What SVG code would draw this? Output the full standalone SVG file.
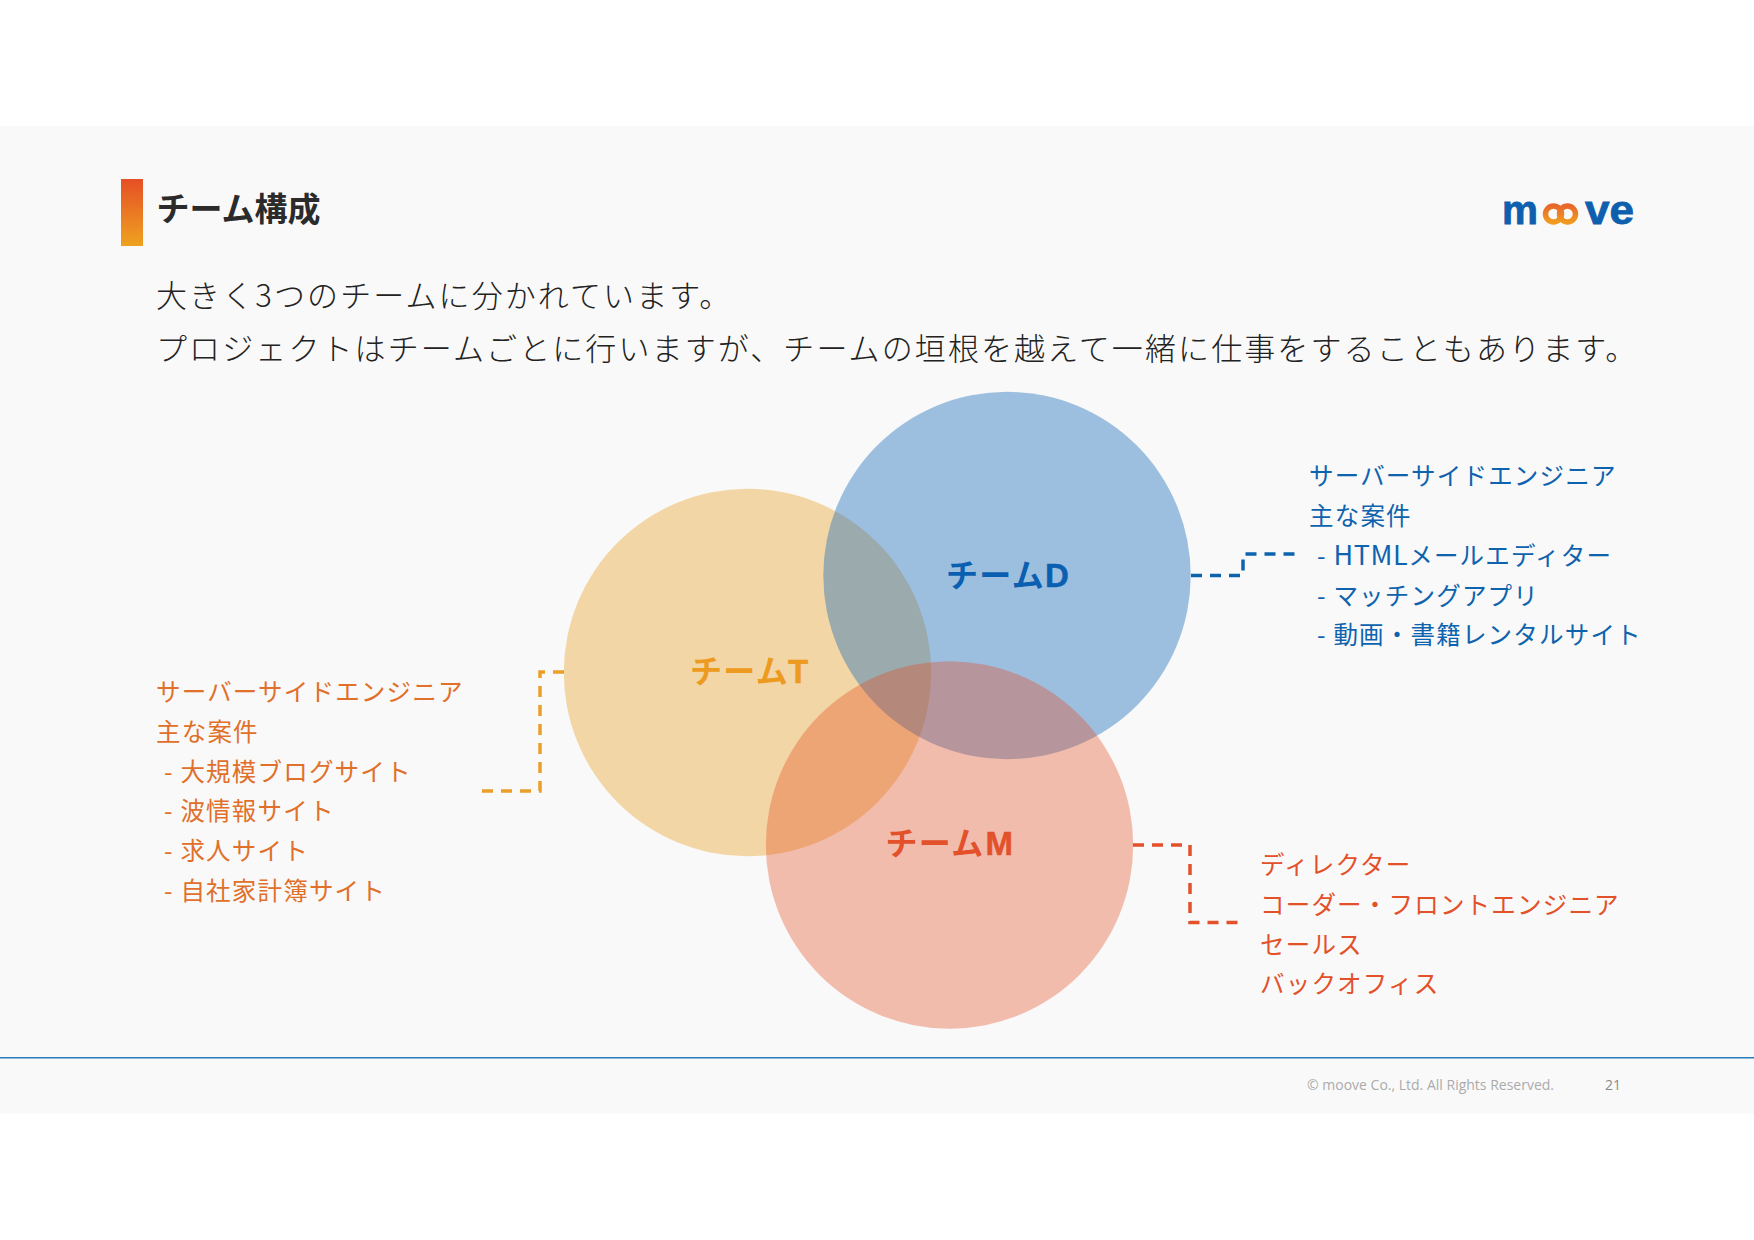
<svg xmlns="http://www.w3.org/2000/svg" width="1754" height="1240" viewBox="0 0 1754 1240">
<style>
text{font-family:"Noto Sans CJK JP","Noto Sans",sans-serif}
.body{font-size:31px;letter-spacing:2.1px;fill:#222;font-weight:300}
.l{font-size:24.500px;letter-spacing:1.2px}
.team{font-size:32px;font-weight:700;letter-spacing:1.3px}
.lat{font-family:"Liberation Sans",Arial,sans-serif;font-size:33px;font-weight:700;stroke-width:.5px;letter-spacing:0}
.t{fill:#e0702a}.d{fill:#0e63ae}.m{fill:#e2512a}
.dash{fill:none;stroke-width:3.500;stroke-dasharray:11 8}
.logo{font-family:"Liberation Sans",Arial,sans-serif;font-size:40px;font-weight:700;fill:#0e5fae;stroke:#0e5fae;stroke-width:.8px}
</style>
<defs>
<linearGradient id="bar" x1="0" y1="0" x2="0" y2="1"><stop offset="0" stop-color="#e64f25"/><stop offset="1" stop-color="#eea220"/></linearGradient>
<linearGradient id="oo" x1="0" y1="0" x2="0" y2="1"><stop offset="0" stop-color="#e8682a"/><stop offset="1" stop-color="#f09a20"/></linearGradient>
</defs>
<rect x="0" y="126" width="1754" height="987.500" fill="#f9f9f9"/>
<g id="header">
<rect x="121" y="179" width="22" height="67" fill="url(#bar)"/>
<text x="156.500" y="221" font-size="33" font-weight="700" fill="#2b2b2b">チーム構成</text>
<text class="body" x="156" y="306.500">大きく3つのチームに分かれています。</text>
<text class="body" x="156" y="359.500">プロジェクトはチームごとに行いますが、チームの垣根を越えて一緒に仕事をすることもあります。</text>
</g>
<g id="logo">
<text class="logo" x="1502" y="224" textLength="36" lengthAdjust="spacingAndGlyphs">m</text>
<circle cx="1553.500" cy="214" r="8" fill="none" stroke="url(#oo)" stroke-width="5.500"/>
<circle cx="1567.500" cy="214" r="8" fill="none" stroke="url(#oo)" stroke-width="5.500"/>
<text class="logo" x="1585" y="224" textLength="49" lengthAdjust="spacingAndGlyphs">ve</text>
</g>
<g id="connectors">
<path class="dash" stroke="#ea9f2a" d="M564 672H540V791H476"/>
<path class="dash" stroke="#0e63ae" d="M1191 575.500H1243V554H1296"/>
<path class="dash" stroke="#e2512a" d="M1133 845H1190V922.500H1243"/>
</g>
<g id="team-t">
<circle cx="747.500" cy="672.500" r="183.700" fill="#eca329" fill-opacity=".4"/>
</g>
<g id="team-d">
<circle cx="1007" cy="575.500" r="183.700" fill="#1469b9" fill-opacity=".4"/>
</g>
<g id="team-m">
<circle cx="949.500" cy="845" r="183.700" fill="#e44a1f" fill-opacity=".35"/>
</g>
<g id="team-labels">
<text class="team" x="690" y="683" fill="#ec9a20">チーム<tspan class="lat" dx="-1" stroke="#ec9a20">T</tspan></text>
<text class="team" x="946" y="587" fill="#0a5fb0">チーム<tspan class="lat" stroke="#0a5fb0">D</tspan></text>
<text class="team" x="885.500" y="855" fill="#e2512a">チーム<tspan class="lat" dx="1" stroke="#e2512a">M</tspan></text>
</g>
<g id="text-t">
<text class="l t" x="156" y="701">サーバーサイドエンジニア</text>
<text class="l t" x="156" y="741">主な案件</text>
<text class="l t" x="164" y="781">- 大規模ブログサイト</text>
<text class="l t" x="164" y="820">- 波情報サイト</text>
<text class="l t" x="164" y="860">- 求人サイト</text>
<text class="l t" x="164" y="900">- 自社家計簿サイト</text>
</g>
<g id="text-d">
<text class="l d" x="1309" y="485">サーバーサイドエンジニア</text>
<text class="l d" x="1309" y="525">主な案件</text>
<text class="l d" x="1317" y="565">- <tspan font-size="27" letter-spacing=".6">HTML</tspan>メールエディター</text>
<text class="l d" x="1317" y="605">- マッチングアプリ</text>
<text class="l d" x="1317" y="644">- 動画・書籍レンタルサイト</text>
</g>
<g id="text-m">
<text class="l m" x="1260" y="874">ディレクター</text>
<text class="l m" x="1260" y="914">コーダー・フロントエンジニア</text>
<text class="l m" x="1260" y="954">セールス</text>
<text class="l m" x="1260" y="993">バックオフィス</text>
</g>
<g id="footer">
<rect x="0" y="1057" width="1754" height="1.500" fill="#2b7bb9"/>
<text x="1307" y="1090" font-size="14" fill="#ababab" style="font-family:'Open Sans','Noto Sans',sans-serif">© moove Co., Ltd. All Rights Reserved.</text>
<text x="1605" y="1090" font-size="14" fill="#8a8a8a" style="font-family:'Open Sans','Noto Sans',sans-serif">21</text>
</g>
</svg>
